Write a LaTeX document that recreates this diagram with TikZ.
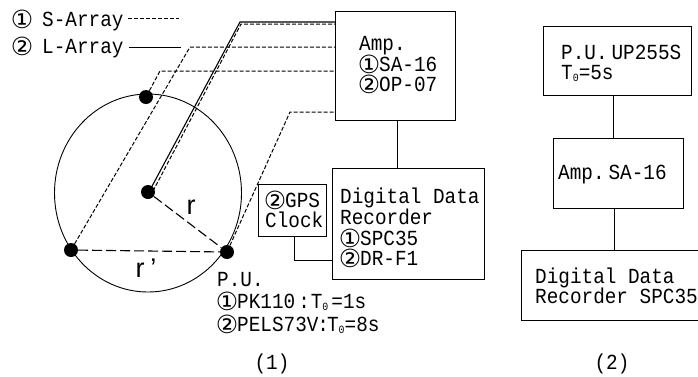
\documentclass[tikz,border=0pt]{standalone}
\usepackage{fontspec}
\usetikzlibrary{shapes.geometric}
\setmainfont{Liberation Sans}
\newfontfamily\gothic[FakeStretch=0.9]{Liberation Mono}
\newfontfamily\circfont{DejaVu Sans}
\newcommand{\cA}{\makebox[20pt][c]{\raisebox{-2.5pt}{\fontsize{25}{25}\circfont ①}}}
\newcommand{\cB}{\makebox[20pt][c]{\raisebox{-2.5pt}{\fontsize{25}{25}\circfont ②}}}
\newcommand{\subzero}{\raisebox{-2pt}{\fontsize{11}{11}\gothic 0}}
\tikzset{
  boxnode/.style={draw=black,line width=1pt,rectangle,inner sep=0pt,anchor=north west},
  txt/.style={font=\fontsize{21.5}{22}\gothic,anchor=base west,inner sep=0pt,text=black},
  captxt/.style={font=\fontsize{21.5}{22}\gothic,anchor=base,inner sep=0pt},
  rad/.style={font=\fontsize{27}{27}\selectfont,anchor=base,inner sep=0pt},
  sensor/.style={circle,fill=black,draw=none,minimum size=14pt,inner sep=0pt},
  wire/.style={line width=1pt},
  dashwire/.style={line width=1pt,dash pattern=on 4pt off 2pt},
  longdash/.style={line width=1.1pt,dash pattern=on 10pt off 4pt}
}
\begin{document}
\begin{tikzpicture}[x=1pt,y=-1pt]
\useasboundingbox (0,0) rectangle (698,376);
\clip (0,0) rectangle (698,376);
% boxes
\node[boxnode,minimum width=120pt,minimum height=109pt] (amp) at (335,11) {};
\node[boxnode,minimum width=152pt,minimum height=111pt] (rec) at (332,168) {};
\node[boxnode,minimum width=68pt,minimum height=52pt] (gps) at (258,184) {};
\node[boxnode,minimum width=148pt,minimum height=69pt] (pu2) at (543,26) {};
\node[boxnode,minimum width=130pt,minimum height=70pt] (amp2) at (553,138) {};
\node[boxnode,minimum width=190pt,minimum height=70pt] (rec2) at (521,250) {};
% circle
\node[draw=black,line width=0.9pt,ellipse,minimum width=187pt,minimum height=198pt,inner sep=0pt] (ring) at (148,193) {};
% sensors
\node[sensor] (top) at (146,97) {};
\node[sensor] (ctr) at (148,192) {};
\node[sensor] (lft) at (71,250) {};
\node[sensor] (rgt) at (227,252) {};
% named bends and ends
\coordinate (s1) at (150,190);
\coordinate (s2) at (153,191);
\coordinate (b1) at (240,22);
\coordinate (e1) at (335,22);
\coordinate (b2) at (241,24);
\coordinate (e2) at (335,24);
\coordinate (b3) at (190,47);
\coordinate (e3) at (335,47);
\coordinate (b4) at (160,71);
\coordinate (e4) at (335,71);
\coordinate (b5) at (290,112);
\coordinate (e5) at (335,112);
\coordinate (ls) at (128,18);
\coordinate (lse) at (179,18);
\coordinate (ll) at (129,47);
\coordinate (lle) at (181,47);
\coordinate (ampo) at (397,120);
\coordinate (reci) at (397,168);
\coordinate (gpso) at (294,236);
\coordinate (gbend) at (294,260);
\coordinate (recg) at (332,260);
\coordinate (puo) at (613,95);
\coordinate (ampi) at (613,138);
\coordinate (ampo2) at (614,208);
\coordinate (reci2) at (614,250);
% connectors
\draw[wire,line width=1.1pt] (s1) -- (b1) -- (e1);
\draw[dashwire] (s2) -- (b2) -- (e2);
\draw[dashwire] (lft) -- (b3) -- (e3);
\draw[dashwire] (top) -- (b4) -- (e4);
\draw[dashwire] (rgt) -- (b5) -- (e5);
\draw[longdash] (ctr) -- (rgt);
\draw[longdash] (lft) -- (rgt);
\draw[wire] (ampo) -- (reci);
\draw[wire] (gpso) -- (gbend) -- (recg);
\draw[wire] (puo) -- (ampi);
\draw[wire] (ampo2) -- (reci2);
\draw[dashwire] (ls) -- (lse);
\draw[wire] (ll) -- (lle);
% legend
\node[txt] (t1) at (12,26) {\cA\kern10pt S-Array};
\node[txt] (t2) at (12,53) {\cB\kern10pt L-Array};
% radii
\node[rad] (r1) at (191,214) {r};
\node[rad] (r2) at (146,277) {r\kern6pt'};
% amp
\node[txt] (a1) at (359,50) {Amp.};
\node[txt] (a2) at (359,71) {\cA SA-16};
\node[txt] (a3) at (359,91) {\cB OP-07};
% gps
\node[txt] (g1) at (265,207) {\cB GPS};
\node[txt] (g2) at (265,227) {Clock};
% recorder
\node[txt] (d1) at (340,203) {Digital Data};
\node[txt] (d2) at (340,224) {Recorder};
\node[txt] (d3) at (340,245) {\cA SPC35};
\node[txt] (d4) at (340,265) {\cB DR-F1};
% P.U.
\node[txt] (p1) at (217,286) {P.U.};
\node[txt] (p2) at (217,308) {\cA PK110\kern3pt:\kern1pt T\subzero\kern3pt=1s};
\node[txt] (p3) at (217,331) {\cB PELS73V\kern-1pt:\kern-2pt T\subzero=8s};
% captions
\node[captxt] (c1) at (272,369) {(1)};
\node[captxt] (c2) at (612,369) {(2)};
% right column
\node[txt] (q1) at (561,59) {P.U.\kern4pt UP255S};
\node[txt] (q2) at (561,79) {T\subzero=5s};
\node[txt] (q3) at (558,179) {Amp.\kern4pt SA-16};
\node[txt] (q4) at (535,283) {Digital Data};
\node[txt] (q5) at (535,303) {Recorder SPC35};
\end{tikzpicture}
\end{document}
